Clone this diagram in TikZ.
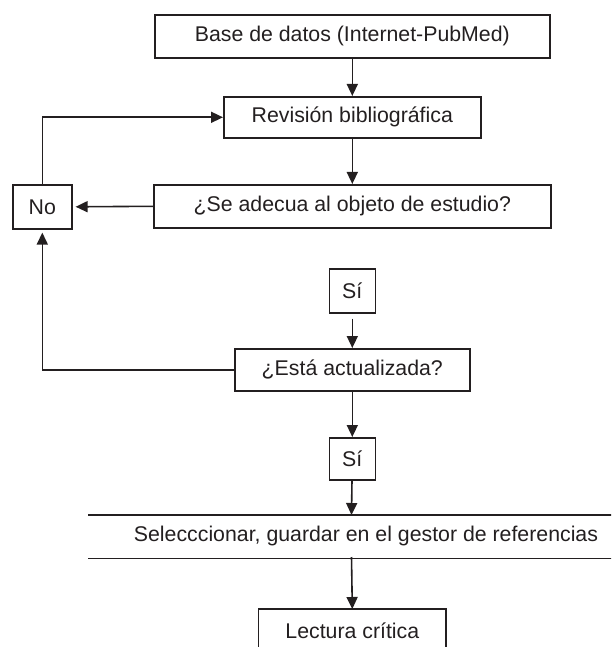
\documentclass[tikz,border=0pt]{standalone}
\usepackage{fontspec}
\setmainfont{Liberation Sans}
\usetikzlibrary{arrows.meta}
\definecolor{ink}{HTML}{231F20}
\begin{document}
\begin{tikzpicture}[x=1pt,y=-1pt,
  every node/.style={text=ink},
  txt/.style={font=\fontsize{21.3}{24}\selectfont},
  box/.style={draw=ink, line width=1.6pt, txt, inner sep=0pt, anchor=north west},
  arr/.style={draw=ink, line width=1.6pt, -{Triangle[length=12pt,width=11pt]}},
  ln/.style={draw=ink, line width=1.6pt}]
\clip (0,0) rectangle (611,647);
\node[box, minimum width=395pt, minimum height=43pt] (base) at (154,14) {Base de datos (Internet-PubMed)};
\node[box, minimum width=257pt, minimum height=41pt] (rev) at (223,96) {Revisión bibliográfica};
\node[box, minimum width=397pt, minimum height=43pt] (adec) at (153,184) {¿Se adecua al objeto de estudio?};
\node[box, minimum width=59pt, minimum height=44pt] (no) at (12,184) {No};
\node[box, minimum width=46pt, minimum height=44pt] (si1) at (328.5,268) {Sí};
\node[box, minimum width=235pt, minimum height=42pt] (esta) at (234,348) {¿Está actualizada?};
\node[box, minimum width=46pt, minimum height=42pt] (si2) at (328.5,437) {Sí};
\node[box, draw=none, minimum width=523pt, minimum height=42pt] (sel) at (88,515) {};
\node[txt] (seltext) at (366,536) {Selecccionar, guardar en el gestor de referencias};
\draw[ln] (sel.north west) -- (sel.north east);
\draw[ln] (sel.south west) -- (sel.south east);
\node[box, draw=none, minimum width=186pt, minimum height=42pt] (lect) at (258.5,609) {Lectura crítica};
\draw[ln] (lect.south west) -- (lect.north west) -- (lect.north east) -- (lect.south east);
\coordinate (seltop) at (351.5,515);
\coordinate (selbot) at (351.5,557);
\draw[arr] (base) -- (rev);
\draw[arr] (rev) -- (adec);
\draw[arr, shorten >=3pt] (adec.west) -- (no.east);
\draw[arr] (no.north) |- (rev.west);
\draw[arr, shorten <=5pt] (si1) -- (esta);
\draw[arr, shorten >=3pt] (esta.west) -| (no.south);
\draw[arr] (esta) -- (si2);
\draw[arr] (si2) -- (seltop);
\draw[arr] (selbot) -- (lect.north);
\end{tikzpicture}
\end{document}
